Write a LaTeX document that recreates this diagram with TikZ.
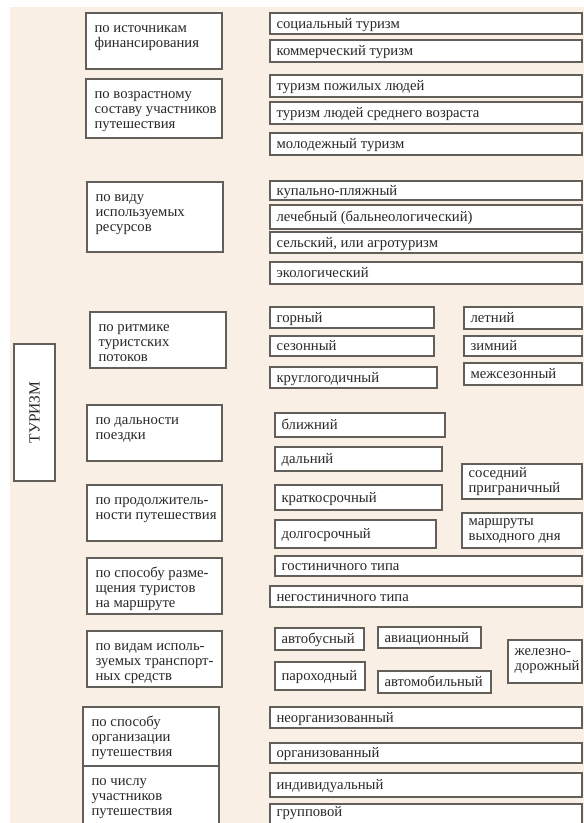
\documentclass[tikz,border=0pt]{standalone}
\usepackage{fontspec}
\setmainfont{Liberation Serif}
\usetikzlibrary{fit,calc}
\definecolor{bg}{RGB}{250,239,229}
\definecolor{edge}{RGB}{98,94,90}
\definecolor{ink}{RGB}{40,40,40}
\newcommand\fs{\fontsize{14.7}{15}\selectfont}
\newcommand\Lbox[6]{%
  \node[box, fit={(#2,#3) (#4,#5)}] (#1) {};
  \node[lt] (#1t) at ($(#1.north west)+(9,20)$) {\parbox[t]{150pt}{\raggedright #6}};}
\newcommand\Rbox[6]{%
  \node[box, fit={(#2,#3) (#4,#5)}] (#1) {};
  \node[rt] (#1t) at ($(#1.west)+(7,4.5)$) {#6};}
\newcommand\Mbox[6]{%
  \node[box, fit={(#2,#3) (#4,#5)}] (#1) {};
  \node[mt] (#1t) at ($(#1.west)+(7,0)$) {#6};}
\begin{document}
\begin{tikzpicture}[x=1pt,y=-1pt,
  box/.style={draw=edge, fill=white, line width=1.2pt, inner sep=0pt},
  lt/.style={font=\fs, text=ink, anchor=base west, inner sep=0pt},
  rt/.style={font=\fs, text=ink, anchor=base west, inner sep=0pt},
  mt/.style={font=\fs, text=ink, anchor=west, inner sep=0pt, align=left}]
\clip (0,0) rectangle (584,823);
\fill[white] (0,0) rectangle (584,823);
\fill[bg] (10,7) rectangle (584,823);

% main box
\node[box, fit={(14,344) (55,481)}] (tur) {};
\node[font=\fontsize{15.5}{16}\selectfont, text=ink, rotate=90, inner sep=0pt] (turt) at (tur.center) {ТУРИЗМ};

% left column
\Lbox{L1}{86}{13}{222}{69}{по источникам\\финансирования}
\Lbox{L2}{86}{79}{222}{138}{по возрастному\\составу участников\\путешествия}
\Lbox{L3}{87}{182}{223}{252}{по виду\\используемых\\ресурсов}
\Lbox{L4}{90}{312}{226}{368}{по ритмике\\туристских\\потоков}
\Lbox{L5}{87}{405}{222}{461}{по дальности\\поездки}
\Lbox{L6}{87}{485}{222}{541}{по продолжитель-\\ности путешествия}
\Lbox{L7}{87}{558}{222}{614}{по способу разме-\\щения туристов\\на маршруте}
\Lbox{L8}{87}{631}{222}{687}{по видам исполь-\\зуемых транспорт-\\ных средств}
\Lbox{L9}{83}{707}{219}{766}{по способу\\организации\\путешествия}
\Lbox{L10}{83}{766}{219}{830}{по числу\\участников\\путешествия}

% right column
\Rbox{R1}{270}{13}{582}{34}{социальный туризм}
\Rbox{R2}{270}{40}{582}{62}{коммерческий туризм}
\Rbox{R3}{270}{75}{582}{97}{туризм пожилых людей}
\Rbox{R4}{270}{102}{582}{124}{туризм людей среднего возраста}
\Rbox{R5}{270}{133}{582}{155}{молодежный туризм}
\Rbox{R6}{270}{181}{582}{200}{купально-пляжный}
\Rbox{R7}{270}{205}{582}{229}{лечебный (бальнеологический)}
\Rbox{R8}{270}{232}{582}{253}{сельский, или агротуризм}
\Rbox{R9}{270}{262}{582}{284}{экологический}
\Rbox{R10}{270}{307}{434}{328}{горный}
\Rbox{R11}{270}{336}{434}{356}{сезонный}
\Rbox{R12}{270}{367}{437}{388}{круглогодичный}
\Rbox{R13}{464}{307}{582}{329}{летний}
\Rbox{R14}{464}{336}{582}{356}{зимний}
\Rbox{R15}{464}{363}{582}{385}{межсезонный}
\Rbox{R16}{275}{413}{445}{437}{ближний}
\Rbox{R17}{275}{447}{442}{471}{дальний}
\Mbox{R18}{462}{464}{582}{499}{соседний\\приграничный}
\Rbox{R19}{275}{485}{442}{510}{краткосрочный}
\Rbox{R20}{275}{520}{436}{548}{долгосрочный}
\Mbox{R21}{462}{513}{582}{548}{маршруты\\выходного дня}
\Rbox{R22}{275}{556}{582}{576}{гостиничного типа}
\Rbox{R23}{270}{586}{582}{607}{негостиничного типа}
\Rbox{R24}{275}{628}{364}{650}{автобусный}
\Rbox{R25}{378}{627}{481}{648}{авиационный}
\Mbox{R26}{508}{640}{582}{683}{железно-\\дорожный}
\Rbox{R27}{275}{662}{365}{690}{пароходный}
\Rbox{R28}{378}{671}{491}{693}{автомобильный}
\Rbox{R29}{270}{707}{582}{728}{неорганизованный}
\Rbox{R30}{270}{743}{582}{763}{организованный}
\Rbox{R31}{270}{773}{582}{797}{индивидуальный}
\node[box, fit={(270,804) (582,830)}] (R32) {};
\node[rt] (R32t) at ($(R32.north west)+(7,13.5)$) {групповой};
\end{tikzpicture}
\end{document}
